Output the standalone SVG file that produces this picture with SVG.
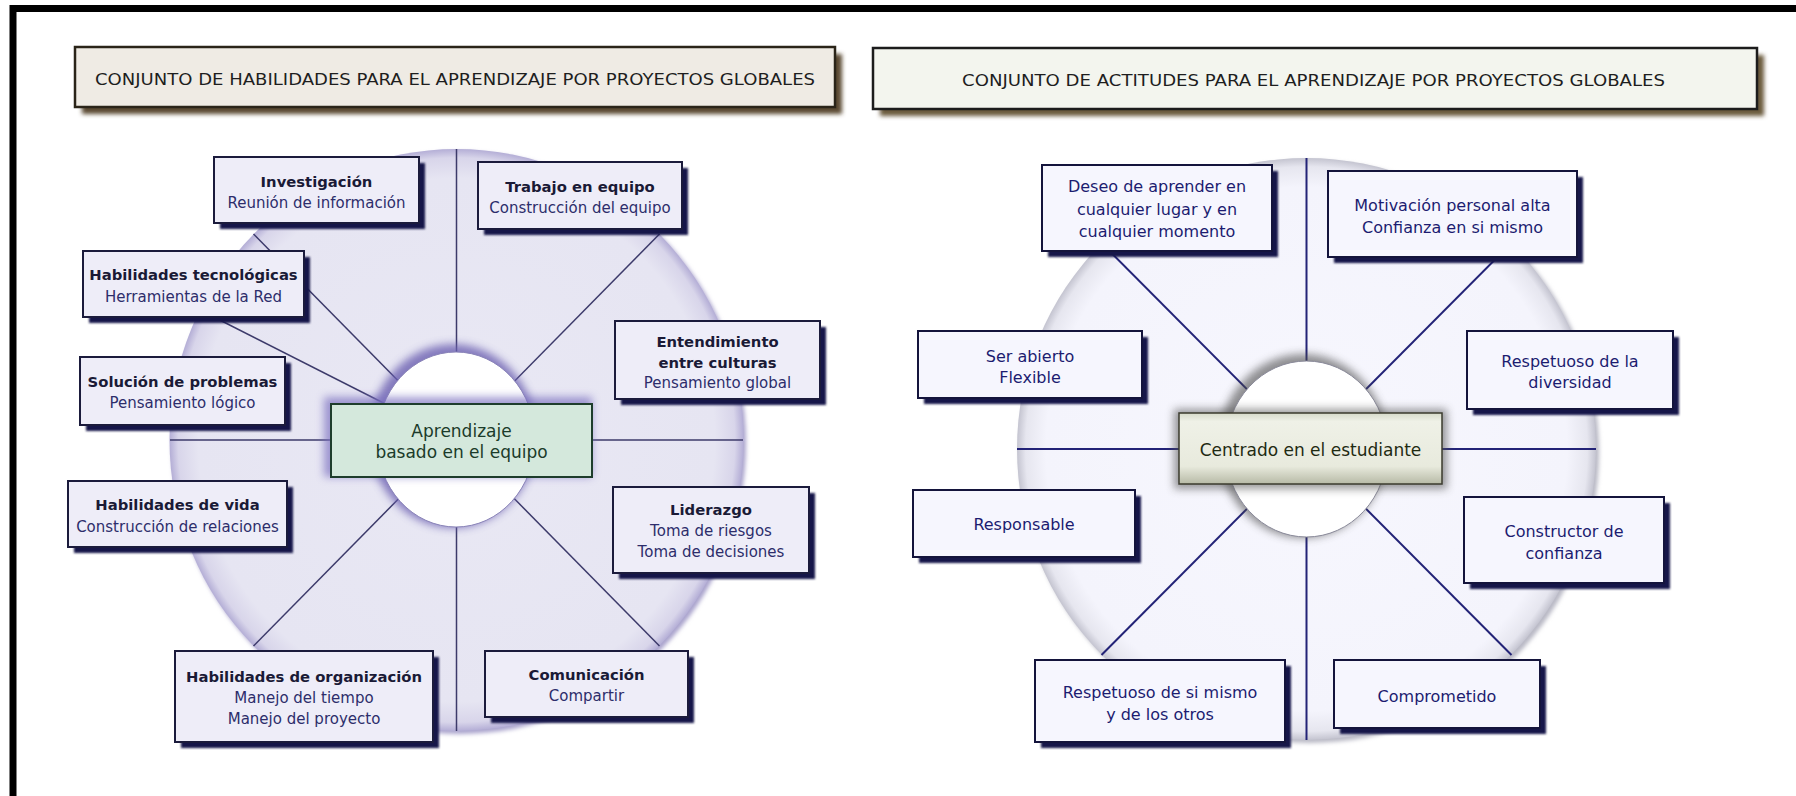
<svg xmlns="http://www.w3.org/2000/svg" width="1796" height="796" viewBox="0 0 1796 796">
<defs>
<style>
text{font-family:"DejaVu Sans","Liberation Sans",sans-serif;text-anchor:middle}
.ttl{font-size:16px;fill:#1e1e1e}
.frame{fill:none;stroke:#000;stroke-width:7}
.sh{fill:#15154a;filter:url(#b1)}
.boxL{fill:#eeedf8;stroke:#1b1b3c;stroke-width:2}
.boxR{fill:#f6f6fe;stroke:#14143c;stroke-width:2}
.b{font-size:14.8px;font-weight:bold;fill:#1a1a36}
.r{font-size:15px;fill:#2d2d6b}
.t{font-size:16px;fill:#1c1c70}
.spL{stroke:#3c3a6a;stroke-width:1.5}
.spR{stroke:#232377;stroke-width:2}
</style>
<filter id="b1" x="-10%" y="-10%" width="120%" height="130%"><feGaussianBlur stdDeviation="1.2"/></filter>
<filter id="b2" x="-10%" y="-20%" width="120%" height="140%"><feGaussianBlur stdDeviation="2"/></filter>
<filter id="b4" x="-20%" y="-30%" width="140%" height="160%"><feGaussianBlur stdDeviation="4"/></filter>
<radialGradient id="diskL" cx="0.5" cy="0.5" r="0.5">
<stop offset="0" stop-color="#e9e8f4"/><stop offset="0.9" stop-color="#e6e5f2"/><stop offset="0.97" stop-color="#d8d5ea"/><stop offset="1" stop-color="#b4aed6"/>
</radialGradient>
<radialGradient id="diskR" cx="0.5" cy="0.5" r="0.5">
<stop offset="0" stop-color="#f7f7fe"/><stop offset="0.9" stop-color="#f4f4fc"/><stop offset="0.97" stop-color="#e6e6ef"/><stop offset="1" stop-color="#c4c4d0"/>
</radialGradient>
<linearGradient id="ctrR" x1="0" y1="0" x2="0" y2="1">
<stop offset="0" stop-color="#d6dac9"/><stop offset="0.12" stop-color="#eff1e7"/><stop offset="0.75" stop-color="#e8eadd"/><stop offset="1" stop-color="#b7baa6"/>
</linearGradient>
</defs>
<rect x="0" y="0" width="1796" height="796" fill="#fff"/>
<path class="frame" d="M13 796 V8.5 H1796"/>

<g id="title-left">
<rect x="82" y="54" width="760" height="60" fill="#5a4a30" filter="url(#b2)"/>
<rect x="75" y="47" width="760" height="60" fill="#efebe4" stroke="#2a2418" stroke-width="2.5"/>
<text class="ttl" x="455" y="85" textLength="720" lengthAdjust="spacingAndGlyphs">CONJUNTO DE HABILIDADES PARA EL APRENDIZAJE POR PROYECTOS GLOBALES</text>
</g>
<g id="title-right">
<rect x="880" y="55" width="884" height="61" fill="#6b5a3d" filter="url(#b2)"/>
<rect x="873" y="48" width="884" height="61" fill="#f3f5ee" stroke="#1c1c1c" stroke-width="2.5"/>
<text class="ttl" x="1313.5" y="86" textLength="703" lengthAdjust="spacingAndGlyphs">CONJUNTO DE ACTITUDES PARA EL APRENDIZAJE POR PROYECTOS GLOBALES</text>
</g>

<g id="wheel-left">
<ellipse cx="459" cy="443" rx="287" ry="291" fill="#a9a3cc" filter="url(#b2)"/>
<ellipse cx="456.5" cy="440" rx="287" ry="291" fill="url(#diskL)"/>
</g>
<g id="wheel-right">
<ellipse cx="1309.5" cy="452" rx="289.5" ry="291" fill="#b8b8c4" filter="url(#b2)"/>
<ellipse cx="1306.5" cy="449" rx="289.5" ry="291" fill="url(#diskR)"/>
</g>

<g id="connectors">
<line class="spL" x1="456.5" y1="440" x2="456.5" y2="149"/>
<line class="spL" x1="456.5" y1="440" x2="456.5" y2="731"/>
<line class="spL" x1="170" y1="440" x2="743" y2="440"/>
<line class="spL" x1="456.5" y1="440" x2="253.5" y2="234"/>
<line class="spL" x1="456.5" y1="440" x2="659.5" y2="234"/>
<line class="spL" x1="456.5" y1="440" x2="253.5" y2="646"/>
<line class="spL" x1="456.5" y1="440" x2="659.5" y2="646"/>
<line class="spL" x1="456.5" y1="440" x2="200" y2="310"/>
<line class="spR" x1="1306.5" y1="449" x2="1306.5" y2="158"/>
<line class="spR" x1="1306.5" y1="449" x2="1306.5" y2="740"/>
<line class="spR" x1="1017" y1="449" x2="1596" y2="449"/>
<line class="spR" x1="1306.5" y1="449" x2="1101.5" y2="243"/>
<line class="spR" x1="1306.5" y1="449" x2="1511.5" y2="243"/>
<line class="spR" x1="1306.5" y1="449" x2="1101.5" y2="655"/>
<line class="spR" x1="1306.5" y1="449" x2="1511.5" y2="655"/>
</g>

<g id="hub-left">
<ellipse cx="453" cy="436" rx="84" ry="92" fill="#6a5fb0" opacity="0.8" filter="url(#b4)"/>
<ellipse cx="456" cy="439.5" rx="79" ry="87.5" fill="#fff" stroke="#8a84b8" stroke-width="1"/>
</g>
<g id="hub-right">
<ellipse cx="1303" cy="446" rx="85" ry="92" fill="#4a4a4a" opacity="0.6" filter="url(#b4)"/>
<ellipse cx="1306.5" cy="449" rx="81" ry="88" fill="#fff" stroke="#8a8a9a" stroke-width="1"/>
</g>

<g id="center-left">
<rect x="324" y="397" width="268" height="80" fill="#7a70c0" opacity="0.7" filter="url(#b4)"/>
<rect x="331" y="404" width="261" height="73" fill="#d4e8dc" stroke="#1e3d2c" stroke-width="2"/>
<text x="461.5" y="437" font-size="17" fill="#1b3b2a">Aprendizaje</text>
<text x="461.5" y="458" font-size="17" fill="#1b3b2a">basado en el equipo</text>
</g>
<g id="center-right">
<rect x="1174" y="409" width="273" height="80" fill="#555" opacity="0.6" filter="url(#b4)"/>
<rect x="1179" y="413" width="263" height="71" fill="url(#ctrR)" stroke="#3b3b2e" stroke-width="1.5"/>
<text x="1310.5" y="456" font-size="17" fill="#1f2a12">Centrado en el estudiante</text>
</g>

<g id="n-investigacion">
<rect class="sh" x="220" y="163" width="205" height="66"/>
<rect class="boxL" x="214" y="157" width="205" height="66"/>
<text class="b" x="316.5" y="187">Investigación</text>
<text class="r" x="316.5" y="208">Reunión de información</text>
</g>
<g id="n-trabajo">
<rect class="sh" x="484" y="168" width="204" height="67"/>
<rect class="boxL" x="478" y="162" width="204" height="67"/>
<text class="b" x="580" y="192">Trabajo en equipo</text>
<text class="r" x="580" y="213">Construcción del equipo</text>
</g>
<g id="n-tecnologicas">
<rect class="sh" x="89" y="257" width="221" height="66"/>
<rect class="boxL" x="83" y="251" width="221" height="66"/>
<text class="b" x="193.5" y="280">Habilidades tecnológicas</text>
<text class="r" x="193.5" y="302">Herramientas de la Red</text>
</g>
<g id="n-entendimiento">
<rect class="sh" x="621" y="327" width="205" height="78"/>
<rect class="boxL" x="615" y="321" width="205" height="78"/>
<text class="b" x="717.5" y="347">Entendimiento</text>
<text class="b" x="717.5" y="368">entre culturas</text>
<text class="r" x="717.5" y="388">Pensamiento global</text>
</g>
<g id="n-solucion">
<rect class="sh" x="86" y="363" width="205" height="68"/>
<rect class="boxL" x="80" y="357" width="205" height="68"/>
<text class="b" x="182.5" y="387">Solución de problemas</text>
<text class="r" x="182.5" y="408">Pensamiento lógico</text>
</g>
<g id="n-vida">
<rect class="sh" x="74" y="487" width="219" height="66"/>
<rect class="boxL" x="68" y="481" width="219" height="66"/>
<text class="b" x="177.5" y="510">Habilidades de vida</text>
<text class="r" x="177.5" y="532">Construcción de relaciones</text>
</g>
<g id="n-liderazgo">
<rect class="sh" x="619" y="493" width="196" height="86"/>
<rect class="boxL" x="613" y="487" width="196" height="86"/>
<text class="b" x="711" y="515">Liderazgo</text>
<text class="r" x="711" y="536">Toma de riesgos</text>
<text class="r" x="711" y="557">Toma de decisiones</text>
</g>
<g id="n-organizacion">
<rect class="sh" x="181" y="657" width="258" height="91"/>
<rect class="boxL" x="175" y="651" width="258" height="91"/>
<text class="b" x="304" y="682">Habilidades de organización</text>
<text class="r" x="304" y="703">Manejo del tiempo</text>
<text class="r" x="304" y="724">Manejo del proyecto</text>
</g>
<g id="n-comunicacion">
<rect class="sh" x="491" y="657" width="203" height="66"/>
<rect class="boxL" x="485" y="651" width="203" height="66"/>
<text class="b" x="586.5" y="680">Comunicación</text>
<text class="r" x="586.5" y="701">Compartir</text>
</g>

<g id="n-deseo">
<rect class="sh" x="1048" y="171" width="230" height="86"/>
<rect class="boxR" x="1042" y="165" width="230" height="86"/>
<text class="t" x="1157" y="192">Deseo de aprender en</text>
<text class="t" x="1157" y="214.5">cualquier lugar y en</text>
<text class="t" x="1157" y="237">cualquier momento</text>
</g>
<g id="n-motivacion">
<rect class="sh" x="1334" y="177" width="249" height="86"/>
<rect class="boxR" x="1328" y="171" width="249" height="86"/>
<text class="t" x="1452.5" y="211">Motivación personal alta</text>
<text class="t" x="1452.5" y="233">Confianza en si mismo</text>
</g>
<g id="n-abierto">
<rect class="sh" x="924" y="337" width="224" height="67"/>
<rect class="boxR" x="918" y="331" width="224" height="67"/>
<text class="t" x="1030" y="362">Ser abierto</text>
<text class="t" x="1030" y="383">Flexible</text>
</g>
<g id="n-diversidad">
<rect class="sh" x="1473" y="337" width="206" height="78"/>
<rect class="boxR" x="1467" y="331" width="206" height="78"/>
<text class="t" x="1570" y="367">Respetuoso de la</text>
<text class="t" x="1570" y="388">diversidad</text>
</g>
<g id="n-responsable">
<rect class="sh" x="919" y="496" width="222" height="67"/>
<rect class="boxR" x="913" y="490" width="222" height="67"/>
<text class="t" x="1024" y="530">Responsable</text>
</g>
<g id="n-constructor">
<rect class="sh" x="1470" y="503" width="200" height="86"/>
<rect class="boxR" x="1464" y="497" width="200" height="86"/>
<text class="t" x="1564" y="537">Constructor de</text>
<text class="t" x="1564" y="559">confianza</text>
</g>
<g id="n-si-mismo">
<rect class="sh" x="1041" y="666" width="250" height="82"/>
<rect class="boxR" x="1035" y="660" width="250" height="82"/>
<text class="t" x="1160" y="698">Respetuoso de si mismo</text>
<text class="t" x="1160" y="720">y de los otros</text>
</g>
<g id="n-comprometido">
<rect class="sh" x="1340" y="666" width="206" height="68"/>
<rect class="boxR" x="1334" y="660" width="206" height="68"/>
<text class="t" x="1437" y="702">Comprometido</text>
</g>
</svg>
